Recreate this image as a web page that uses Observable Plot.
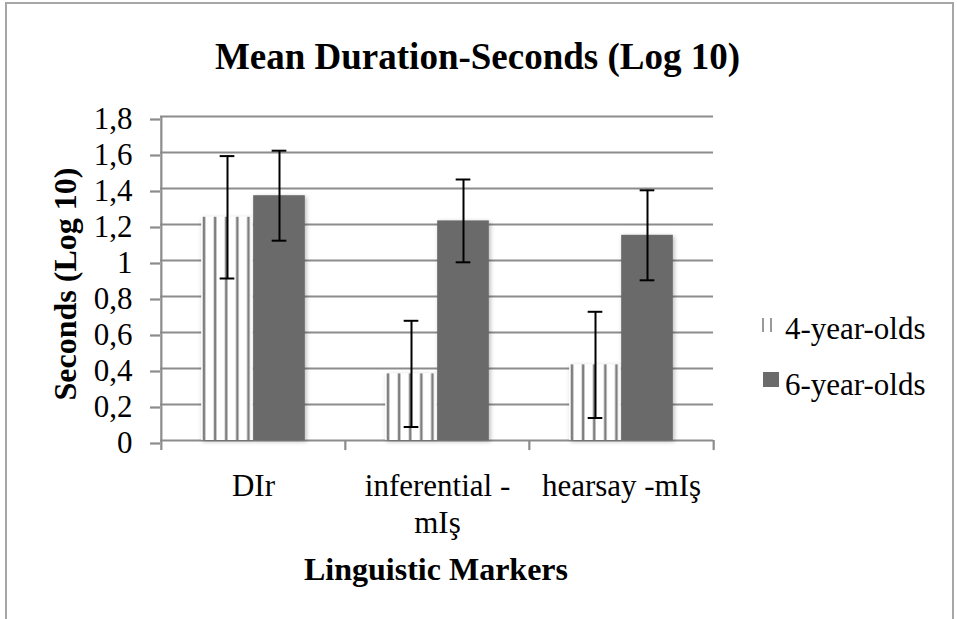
<!DOCTYPE html>
<html>
<head>
<meta charset="utf-8">
<script src="https://cdn.jsdelivr.net/npm/d3@7"></script>
<script src="https://cdn.jsdelivr.net/npm/@observablehq/plot@0.6"></script>
<style>
  html, body { margin: 0; padding: 0; background: #fff; overflow: hidden; }
  #wrap { position: relative; width: 957px; height: 619px; font-family: "Liberation Serif", "Times New Roman", serif; }
  #frame { position: absolute; left: 5px; top: 2px; width: 949px; height: 660px; border: 2px solid #a6a6a6; box-sizing: border-box; }
  #chart, #deco { position: absolute; left: 0; top: 0; }
</style>
</head>
<body>
<div id="wrap">
  <div id="frame"></div>
  <div id="chart"></div>
  <svg id="deco" width="957" height="619" xmlns="http://www.w3.org/2000/svg"></svg>
</div>
<script>
// ---- data ----
const categories = ["DIr", "inferential -mIş", "hearsay -mIş"];
const tickLabels = ["DIr", "inferential -\nmIş", "hearsay -mIş"];
const groups = ["4-year-olds", "6-year-olds"];
const mean4 = [1.24, 0.37, 0.42];
const err4 = [0.34, 0.295, 0.295];
const mean6 = [1.36, 1.22, 1.14];
const err6 = [0.25, 0.23, 0.25];
const yTicks = [0, 0.2, 0.4, 0.6, 0.8, 1, 1.2, 1.4, 1.6, 1.8];
const yTickLabels = ["0", "0,2", "0,4", "0,6", "0,8", "1", "1,2", "1,4", "1,6", "1,8"];
const title = "Mean Duration-Seconds (Log 10)";
const yTitle = "Seconds (Log 10)";
const xTitle = "Linguistic Markers";

// ---- layout ----
const W = 957, H = 619;
const mL = 160, mR = 244, mT = 116, mB = 179;
const bw = (W - mL - mR) / categories.length;
const barW = 52, capW = 15;
const gridColor = "#8c8c8c";
const darkFill = "#6b6b6b";
const FONT = "Liberation Serif, Times New Roman, serif";

const rows4 = categories.map((c, i) => ({cat: c, group: groups[0], mean: mean4[i], err: err4[i]}));
const rows6 = categories.map((c, i) => ({cat: c, group: groups[1], mean: mean6[i], err: err6[i]}));

const plot = Plot.plot({
  width: W, height: H,
  marginLeft: mL, marginRight: mR, marginTop: mT, marginBottom: mB,
  style: {fontFamily: FONT, background: "transparent", overflow: "visible", color: "black"},
  x: {domain: categories, padding: 0},
  y: {domain: [0, 1.8]},
  marks: [
    Plot.gridY(yTicks, {stroke: gridColor, strokeOpacity: 1, strokeWidth: 2.2}),
    // left axis line + boundary ticks
    Plot.ruleX([categories[0]], {x: d => d, dx: -bw / 2, y1: -0.056, y2: 1.8, stroke: gridColor, strokeWidth: 2.2}),
    Plot.ruleX(categories.slice(1), {x: d => d, dx: -bw / 2, y1: -0.056, y2: 0, stroke: gridColor, strokeWidth: 2.2}),
    Plot.ruleX([categories[categories.length - 1]], {x: d => d, dx: bw / 2, y1: -0.056, y2: 0, stroke: gridColor, strokeWidth: 2.2}),
    Plot.barY(rows4, {x: "cat", y: "mean", fill: "url(#stripes4)", insetLeft: bw / 2 - barW, insetRight: bw / 2}),
    Plot.barY(rows6, {x: "cat", y: "mean", fill: darkFill, insetLeft: bw / 2, insetRight: bw / 2 - barW}),
    // error bars
    Plot.ruleX(rows4, {x: "cat", dx: -barW / 2, y1: d => d.mean - d.err, y2: d => d.mean + d.err, stroke: "black", strokeWidth: 2}),
    Plot.ruleX(rows6, {x: "cat", dx: barW / 2, y1: d => d.mean - d.err, y2: d => d.mean + d.err, stroke: "black", strokeWidth: 2}),
    Plot.tickY(rows4, {x: "cat", y: d => d.mean + d.err, insetLeft: bw / 2 - barW / 2 - capW / 2, insetRight: bw / 2 + barW / 2 - capW / 2, stroke: "black", strokeWidth: 2}),
    Plot.tickY(rows4, {x: "cat", y: d => d.mean - d.err, insetLeft: bw / 2 - barW / 2 - capW / 2, insetRight: bw / 2 + barW / 2 - capW / 2, stroke: "black", strokeWidth: 2}),
    Plot.tickY(rows6, {x: "cat", y: d => d.mean + d.err, insetLeft: bw / 2 + barW / 2 - capW / 2, insetRight: bw / 2 - barW / 2 - capW / 2, stroke: "black", strokeWidth: 2}),
    Plot.tickY(rows6, {x: "cat", y: d => d.mean - d.err, insetLeft: bw / 2 + barW / 2 - capW / 2, insetRight: bw / 2 - barW / 2 - capW / 2, stroke: "black", strokeWidth: 2}),
    Plot.axisY(yTicks, {
      tickFormat: d => yTickLabels[yTicks.indexOf(d)],
      tickSize: 10, tickPadding: 18, fontSize: 31, stroke: gridColor, strokeWidth: 2.2,
      color: "black", dy: 3, label: null
    }),
    Plot.axisX({
      tickFormat: d => tickLabels[categories.indexOf(d)],
      tickSize: 0, tickPadding: 29, fontSize: 31, lineHeight: 1.2, color: "black", label: null
    })
  ]
});
document.getElementById("chart").appendChild(plot);

// pattern + shadow defs
const svgSel = d3.select(plot);
const defs = svgSel.insert("defs", ":first-child");
const pat = defs.append("pattern").attr("id", "stripes4")
  .attr("patternUnits", "objectBoundingBox").attr("patternContentUnits", "objectBoundingBox")
  .attr("width", 0.215).attr("height", 1);
pat.append("rect").attr("width", 0.215).attr("height", 1).attr("fill", "#ffffff");
pat.append("rect").attr("x", 0.03).attr("width", 0.05).attr("height", 1).attr("fill", "#7f7f7f");
const filt = defs.append("filter").attr("id", "shadow")
  .attr("x", "-20%").attr("y", "-10%").attr("width", "140%").attr("height", "120%");
filt.append("feDropShadow").attr("dx", 1.5).attr("dy", 1.5).attr("stdDeviation", 2)
  .attr("flood-color", "#000").attr("flood-opacity", 0.28);
svgSel.selectAll('g[aria-label="bar"]').attr("filter", "url(#shadow)");

// title, axis titles, legend
const deco = d3.select("#deco").style("font-family", FONT);
deco.append("text").attr("x", 477.5).attr("y", 69).attr("text-anchor", "middle")
  .attr("font-size", 37).attr("font-weight", "bold").text(title);
deco.append("text").attr("transform", "translate(76,284) rotate(-90)").attr("text-anchor", "middle")
  .attr("font-size", 32).attr("font-weight", "bold").text(yTitle);
deco.append("text").attr("x", 436).attr("y", 580).attr("text-anchor", "middle")
  .attr("font-size", 32).attr("font-weight", "bold").text(xTitle);

const legY = [339, 395];
// 4-year-olds swatch (striped)
deco.append("line").attr("x1", 763).attr("x2", 763).attr("y1", 318).attr("y2", 332).attr("stroke", "#999").attr("stroke-width", 2);
deco.append("line").attr("x1", 771).attr("x2", 771).attr("y1", 318).attr("y2", 332).attr("stroke", "#999").attr("stroke-width", 2);
// 6-year-olds swatch
deco.append("rect").attr("x", 763).attr("y", 372).attr("width", 16).attr("height", 15).attr("fill", darkFill);
groups.forEach((g, i) => {
  deco.append("text").attr("x", 785).attr("y", legY[i]).attr("font-size", 31).text(g);
});
</script>
</body>
</html>
